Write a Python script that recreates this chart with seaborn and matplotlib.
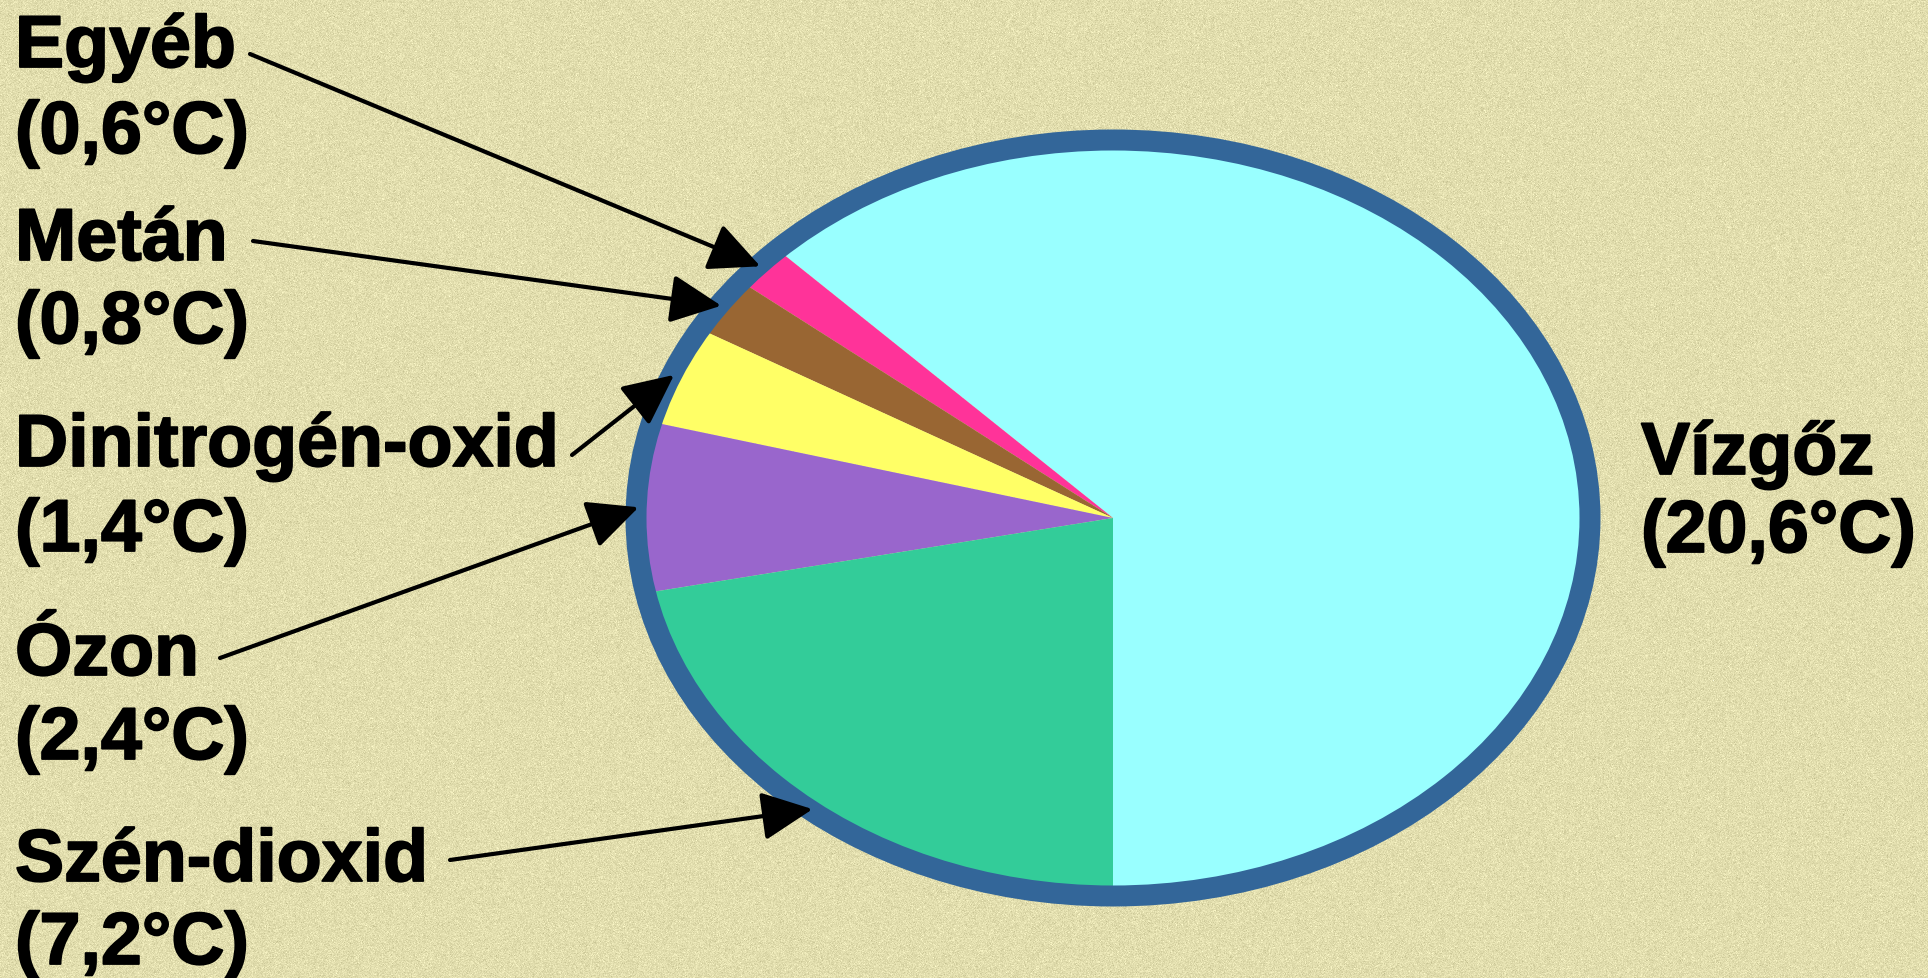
import numpy as np
import matplotlib
matplotlib.use("Agg")
import matplotlib.pyplot as plt
import matplotlib.patheffects as pe
from matplotlib.patches import Ellipse
import seaborn as sns

# Greenhouse contributions to the natural warming (°C)
gases = ["Vízgőz", "Egyéb", "Metán", "Dinitrogén-oxid", "Ózon", "Szén-dioxid"]
warming = [20.6, 0.6, 0.8, 1.4, 2.4, 7.2]
colors = ["#99FFFF", "#FF3399", "#996633", "#FFFF66", "#9966CC", "#33CC99"]

sns.set_theme(style="white")
plt.rcParams["font.family"] = ["Liberation Sans", "DejaVu Sans"]

BG = "#E2DEAE"
W, H = 1928, 979
fig = plt.figure(figsize=(W / 100, H / 100), dpi=100, facecolor=BG)

# fine paper-like grain behind everything
rng = np.random.default_rng(7)
base = np.array(matplotlib.colors.to_rgb(BG))
grain = np.clip(base[None, None, :] + rng.normal(0, 0.035, (H, W, 1)), 0, 1)
fig.figimage(grain, xo=0, yo=0, zorder=-10, origin="upper")

# elliptical pie: axes stretched wider than tall
cx, cy = 1113, 519          # centre (pixels from top-left)
rx, ry = 477, 378           # semi-axes of the border centre line
ax = fig.add_axes([(cx - rx) / W, (H - cy - ry) / H, 2 * rx / W, 2 * ry / H])
ax.set_facecolor("none")

palette = sns.color_palette(colors)
wedges, _ = ax.pie(warming, colors=palette, startangle=-90, counterclock=True,
                   radius=1.0, wedgeprops=dict(linewidth=0))
ax.add_patch(Ellipse((0, 0), 2, 2, fill=False, edgecolor="#336699",
                     linewidth=21 * 72 / 100, zorder=5, clip_on=False))
ax.set_aspect("auto")
ax.set_xlim(-1, 1)
ax.set_ylim(-1, 1)
ax.axis("off")


def fmt(v):
    return f"({v:.1f}°C)".replace(".", ",")


FS = 53
heavy = [pe.withStroke(linewidth=1.3, foreground="black")]
# label anchor: (x, name baseline, value baseline) in pixels from top-left
label_pos = {
    "Egyéb": (15, 68, 154),
    "Metán": (15, 261, 344),
    "Dinitrogén-oxid": (15, 467, 552),
    "Ózon": (15, 676, 760),
    "Szén-dioxid": (15, 882, 965),
    "Vízgőz": (1641, 475, 553),
}
# arrow tails (pixels from top-left)
arrow_tail = {
    "Egyéb": (250, 55),
    "Metán": (253, 242),
    "Dinitrogén-oxid": (572, 456),
    "Ózon": (220, 659),
    "Szén-dioxid": (450, 861),
}

for name, val, w in zip(gases, warming, wedges):
    x, yb1, yb2 = label_pos[name]
    for txt, yb in ((name, yb1), (fmt(val), yb2)):
        fig.text(x / W, (H - yb) / H, txt, fontsize=FS, fontweight="bold",
                 color="black", ha="left", va="baseline", path_effects=heavy)
    if name in arrow_tail:
        mid = np.deg2rad((w.theta1 + w.theta2) / 2)
        tx, ty = arrow_tail[name]
        ax.annotate("", xy=(0.995 * np.cos(mid), 0.995 * np.sin(mid)),
                    xycoords="data", xytext=(tx, H - ty),
                    textcoords="figure pixels",
                    arrowprops=dict(arrowstyle="-|>,head_length=1.05,head_width=0.5",
                                    mutation_scale=30, color="black", lw=3,
                                    shrinkA=0, shrinkB=0),
                    zorder=10, annotation_clip=False)

fig.savefig("out.png", dpi=100, facecolor=BG)
